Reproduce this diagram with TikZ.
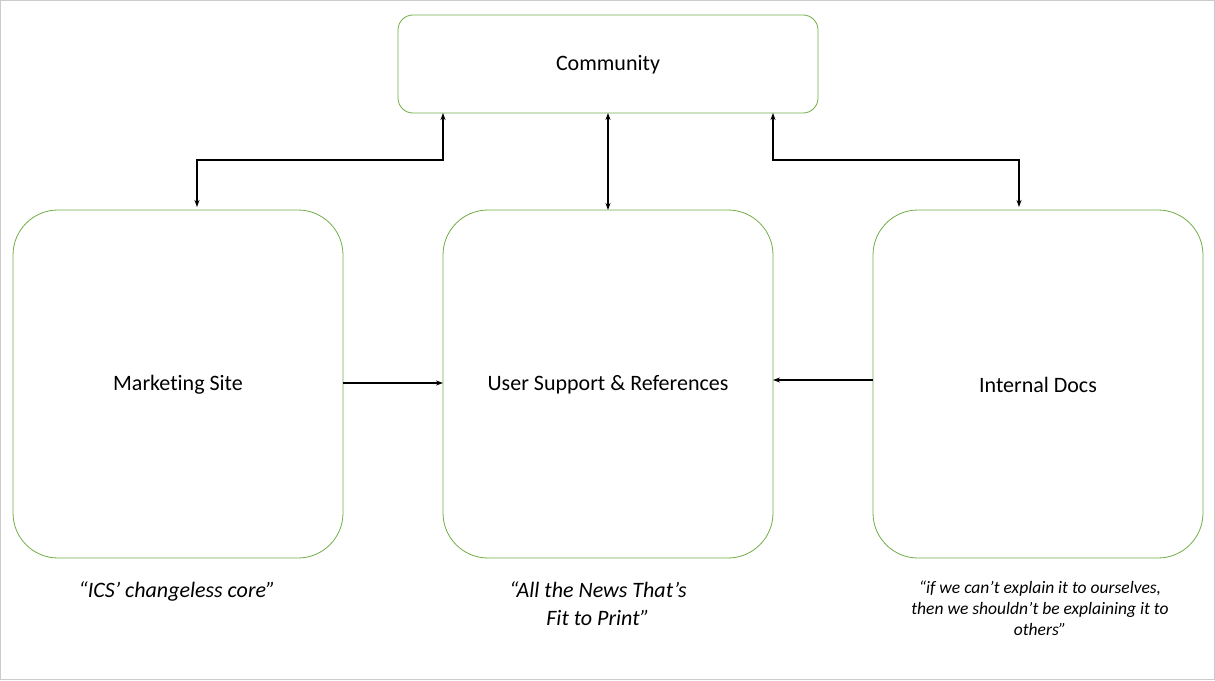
\documentclass[tikz,border=0pt]{standalone}
\usepackage{fontspec}
\setmainfont{Carlito}[Ligatures={NoCommon}]
\usetikzlibrary{arrows.meta}
\definecolor{grn}{RGB}{112,173,71}
\begin{document}
\begin{tikzpicture}[x=1pt,y=-1pt,
 box/.style={draw=grn,line width=0.8pt,fill=white},
 lbl/.style={font=\fontsize{22}{26}\selectfont},
 quo/.style={font=\fontsize{22}{28}\selectfont\itshape,align=center},
 arr/.style={line width=1.2pt,-{Stealth[length=7pt,width=5pt]}},
 darr/.style={line width=1.2pt,{Stealth[length=7pt,width=5pt]}-{Stealth[length=7pt,width=5pt]}}]
\useasboundingbox (0,0) rectangle (1215,680);
\draw[gray!40] (0.5,0.5) rectangle (1214.5,679.5);
\draw[box,rounded corners=15] (398,15) rectangle (818,113);
\node[lbl] (comm) at (608,65) {Community};
\draw[box,rounded corners=45] (13,210) rectangle (343,558);
\node[lbl] (mkt) at (178,385) {Marketing Site};
\draw[box,rounded corners=45] (443,210) rectangle (773,558);
\node[lbl] (usr) at (608,385) {User Support \& References};
\draw[box,rounded corners=45] (873,210) rectangle (1203,558);
\node[lbl] (int) at (1038,385) {Internal Docs};
\coordinate (c1) at (443,113); \coordinate (c2) at (608,113); \coordinate (c3) at (773,113);
\coordinate (m1) at (197,207); \coordinate (u1) at (608,210); \coordinate (i1) at (1019,207);
\coordinate (mr) at (343,383); \coordinate (ul) at (443,383);
\coordinate (il) at (873,380); \coordinate (ur) at (773,380);
\draw[darr] (c1) -- (443,160) -- (197,160) -- (m1);
\draw[darr] (c2) -- (u1);
\draw[darr] (c3) -- (773,160) -- (1019,160) -- (i1);
\draw[arr] (mr) -- (ul);
\draw[arr] (il) -- (ur);
\node[quo] (q1) at (177,591) {“ICS’ changeless core”};
\node[quo] (q2) at (598,604) {“All the News That’s\\Fit to Print”};
\node[quo,font=\fontsize{17.5}{21}\selectfont\itshape] (q3) at (1040,608) {“if we can't explain it to ourselves,\\then we shouldn't be explaining it to\\others”};
\end{tikzpicture}
\end{document}
